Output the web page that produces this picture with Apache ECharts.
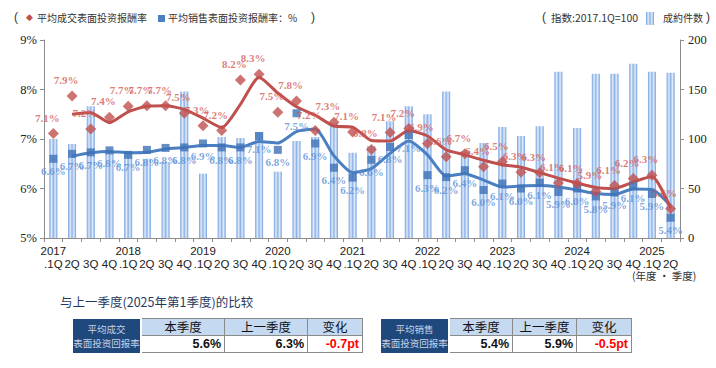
<!DOCTYPE html>
<html><head><meta charset="utf-8">
<script src="https://cdn.jsdelivr.net/npm/echarts@6/dist/echarts.min.js"></script>
<style>
html,body{margin:0;padding:0;background:#fff;}
#wrap{position:relative;width:716px;height:368px;overflow:hidden;font-family:"Noto Sans CJK SC","Noto Sans",sans-serif;}
#chart{position:absolute;left:0;top:0;width:716px;height:368px;}
.ttl{position:absolute;left:60px;top:292px;font-size:12.5px;color:#1f3a5f;white-space:nowrap;}
table.cmp{position:absolute;top:318px;border-collapse:collapse;}
table.cmp td{padding:0;height:16px;border:1.5px solid #8a8a8a;font-size:12.5px;line-height:16px;}
table.cmp td.dk{background:#1f497d;color:#c7d2e4;font-size:9.5px;line-height:14px;text-align:center;border:none;border-right:2px solid #fff;}
table.cmp td.hd{background:#c5d9f1;text-align:center;color:#111;}
table.cmp td.v{background:#fff;text-align:right;font-family:"Liberation Sans",Arial,sans-serif;font-weight:bold;color:#111;padding-right:3px;}
table.cmp td.neg{color:#ff0000;}
</style></head>
<body><div id="wrap"><div id="chart"></div>
<div class="ttl">与上一季度(2025年第1季度)的比较</div>
<table class="cmp" style="left:73px">
<tr><td class="dk" rowspan="2" style="width:67px">平均成交<br>表面投资回报率</td><td class="hd" style="width:82px">本季度</td><td class="hd" style="width:82px">上一季度</td><td class="hd" style="width:54px">变化</td></tr>
<tr><td class="v">5.6%</td><td class="v">6.3%</td><td class="v neg">-0.7pt</td></tr>
</table>
<table class="cmp" style="left:381px">
<tr><td class="dk" rowspan="2" style="width:67px">平均销售<br>表面投资回报率</td><td class="hd" style="width:62px">本季度</td><td class="hd" style="width:63px">上一季度</td><td class="hd" style="width:54px">变化</td></tr>
<tr><td class="v">5.4%</td><td class="v">5.9%</td><td class="v neg">-0.5pt</td></tr>
</table>
</div>
<script>
const categories = ['2017.1Q','2017.2Q','2017.3Q','2017.4Q','2018.1Q','2018.2Q','2018.3Q','2018.4Q','2019.1Q','2019.2Q','2019.3Q','2019.4Q','2020.1Q','2020.2Q','2020.3Q','2020.4Q','2021.1Q','2021.2Q','2021.3Q','2021.4Q','2022.1Q','2022.2Q','2022.3Q','2022.4Q','2023.1Q','2023.2Q','2023.3Q','2023.4Q','2024.1Q','2024.2Q','2024.3Q','2024.4Q','2025.1Q','2025.2Q'];
// 平均成交表面投资报酬率 (%)
const redValues = [7.11,7.87,7.2,7.44,7.66,7.67,7.67,7.52,7.27,7.17,8.19,8.31,7.54,7.77,7.17,7.34,7.14,6.79,7.13,7.21,6.91,6.64,6.7,6.44,6.54,6.33,6.32,6.11,6.1,5.94,6.06,6.2,6.27,5.59];
const redTrend = [null,7.5,7.53,7.33,7.55,7.66,7.67,7.6,7.42,7.23,7.7,8.25,7.93,7.65,7.48,7.26,7.24,6.97,6.96,7.17,7.06,6.78,6.68,6.57,6.48,6.43,6.32,6.21,6.11,6.02,6.0,6.13,6.24,5.6];
// 平均销售表面投资报酬率 (%)
const blueValues = [6.6,6.7,6.73,6.77,6.68,6.78,6.82,6.83,6.91,6.83,6.83,7.06,6.78,7.52,6.91,6.42,6.22,6.58,6.84,7.08,6.27,6.23,6.37,5.97,6.1,6.0,6.12,5.93,6.0,5.84,5.92,6.06,5.89,5.41];
const blueTrend = [null,6.65,6.72,6.75,6.72,6.73,6.8,6.83,6.87,6.87,6.83,6.95,6.92,7.15,7.2,6.66,6.32,6.4,6.71,6.96,6.68,6.25,6.3,6.17,6.03,6.05,6.06,6.03,5.97,5.9,5.88,5.99,5.98,5.65];
// 成約件数 指数 (2017.1Q=100)
const contracts = [100,95,133,88,86,80,77,148,65,102,101,107,67,98,102,116,86,93,118,133,125,148,88,96,112,103,113,168,111,166,166,176,168,167];
const leftTicks = {min:5, max:9, interval:1};
const rightTicks = {min:0, max:200, interval:50};

const RED='#c0504d', BLUE='#4a7fc1';
const barGrad = new echarts.graphic.LinearGradient(0,0,1,0,[
  {offset:0,color:'#6d9ee0'},{offset:0.28,color:'#e3ecf9'},{offset:0.5,color:'#8db2e8'},{offset:0.72,color:'#e3ecf9'},{offset:1,color:'#6d9ee0'}]);
const chart = echarts.init(document.getElementById('chart'), null, {renderer:'svg'});
const labelFont = {fontFamily:'"Liberation Serif","DejaVu Serif",serif', fontWeight:'bold', fontSize:11};
chart.setOption({
  animation:false,
  grid:{left:44,right:36,top:40,bottom:130},
  xAxis:{type:'category',data:categories,boundaryGap:true,
    axisLine:{lineStyle:{color:'#8c8c8c',width:1}},
    axisTick:{show:true,length:4,lineStyle:{color:'#8c8c8c'}},
    axisLabel:{interval:0,margin:6,color:'#222',fontSize:11.5,lineHeight:13,fontFamily:'"Liberation Sans Narrow","Liberation Sans",Arial,sans-serif',
      formatter:function(v){const p=v.split('.');return p[1]==='1Q'?p[0]+'\n.1Q':'\n'+p[1];}}},
  yAxis:[
    {type:'value',min:leftTicks.min,max:leftTicks.max,interval:leftTicks.interval,splitLine:{show:false},
     axisLine:{show:true,lineStyle:{color:'#8c8c8c'}},axisTick:{show:true,length:4,lineStyle:{color:'#8c8c8c'}},
     axisLabel:{formatter:'{value}%',color:'#222',fontSize:12.5,margin:7,fontFamily:'"Liberation Serif",serif'}},
    {type:'value',min:rightTicks.min,max:rightTicks.max,interval:rightTicks.interval,splitLine:{show:false},position:'right',
     axisLine:{show:true,lineStyle:{color:'#8c8c8c'}},axisTick:{show:true,length:4,lineStyle:{color:'#8c8c8c'}},
     axisLabel:{color:'#222',fontSize:12.5,margin:8,fontFamily:'"Liberation Serif",serif'}}
  ],
  series:[
    {type:'bar',yAxisIndex:1,data:contracts,barWidth:8,itemStyle:{color:barGrad},z:1},
    {type:'line',yAxisIndex:0,data:blueTrend,symbol:'none',smooth:0.2,lineStyle:{color:BLUE,width:3},z:3},
    {type:'line',yAxisIndex:0,data:redTrend,symbol:'none',smooth:0.2,lineStyle:{color:RED,width:3},z:3},
    {type:'scatter',yAxisIndex:0,data:blueValues,symbol:'rect',symbolSize:8,itemStyle:{color:'#3e72b6'},z:4,
     label:{show:true,position:'bottom',distance:3,offset:[0,0],color:'#5b8fd6',...labelFont,formatter:p=>p.value.toFixed(1)+'%'}},
    {type:'scatter',yAxisIndex:0,data:redValues,symbol:'diamond',symbolSize:11,itemStyle:{color:RED},z:5,
     label:{show:true,position:'top',distance:3,offset:[-6,-2],color:'#d45b57',...labelFont,formatter:p=>p.value.toFixed(1)+'%'}}
  ],
  graphic:[
    {type:'text',left:14,top:11,style:{text:'(',fontSize:12,fill:'#333'}},
    {type:'text',left:26,top:12,style:{text:'◆',fontSize:9,fill:RED}},
    {type:'text',left:37,top:12,style:{text:'平均成交表面投资报酬率',fontSize:10,fill:'#333',fontFamily:'"Noto Sans CJK SC"'}},
    {type:'rect',shape:{x:158,y:15,width:7,height:7},style:{fill:BLUE}},
    {type:'text',left:168,top:12,style:{text:'平均销售表面投资报酬率：%',fontSize:10,fill:'#333',fontFamily:'"Noto Sans CJK SC"'}},
    {type:'text',left:311,top:11,style:{text:')',fontSize:12,fill:'#333'}},
    {type:'text',left:542,top:11,style:{text:'(',fontSize:12,fill:'#333'}},
    {type:'text',left:551,top:12,style:{text:'指数:2017.1Q=100',fontSize:10.5,fill:'#333',fontFamily:'"Noto Sans CJK SC"'}},
    {type:'rect',shape:{x:646,y:12,width:8,height:13},style:{fill:barGrad}},
    {type:'text',left:663,top:12,style:{text:'成約件数',fontSize:10,fill:'#333',fontFamily:'"Noto Sans CJK SC"'}},
    {type:'text',left:706,top:11,style:{text:')',fontSize:12,fill:'#333'}},
    {type:'text',left:632,top:270,style:{text:'(年度 · 季度)',fontSize:10.5,fill:'#333',fontFamily:'"Noto Sans CJK SC"'}}
  ]
});
</script></body></html>
